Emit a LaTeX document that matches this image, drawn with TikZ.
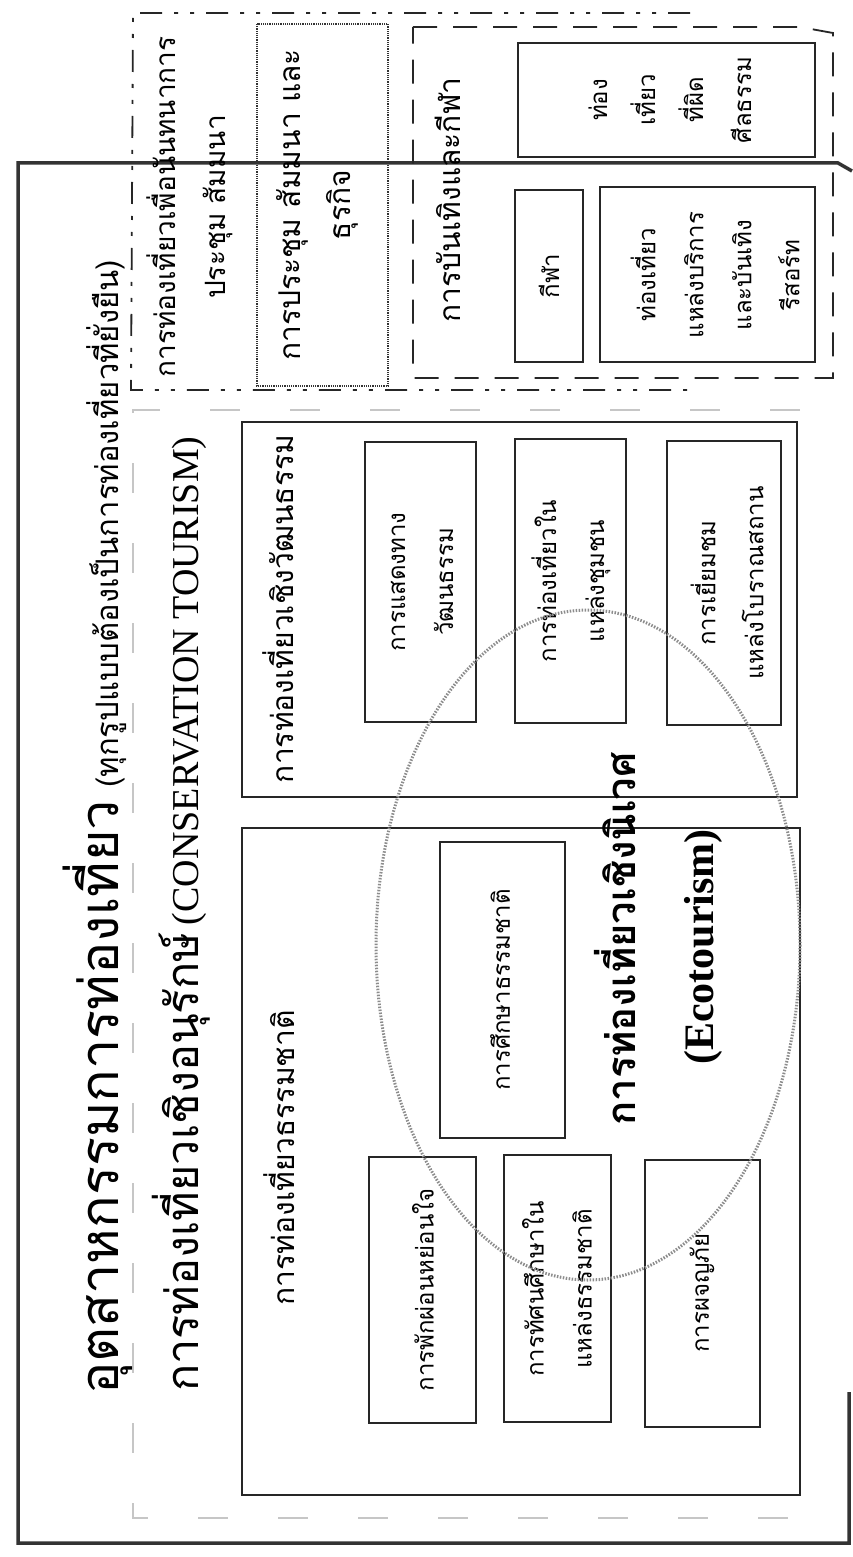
\documentclass[tikz,border=0pt]{standalone}
\usepackage{fontspec}
\setmainfont{Liberation Serif}
\newfontfamily\thai[Script=Thai]{Loma}

\begin{document}
\begin{tikzpicture}[x=1pt,y=-1pt,
  box/.style={draw=black!85,line width=1.6},
  dashA/.style={draw=black!85,line width=1.8,dash pattern=on 22pt off 12pt on 4pt off 12pt on 4pt off 12pt},
  dashB/.style={draw=black!85,line width=1.8,dash pattern=on 24pt off 16pt},
  lbl/.style={rotate=90,align=center,inner sep=0pt,font=\thai\fontsize{24}{48}\selectfont},
  head/.style={rotate=90,align=center,inner sep=0pt,font=\thai\fontsize{30}{50}\selectfont}]
\fill[white] (0,0) rectangle (853,1557);
\useasboundingbox (0,0) rectangle (853,1557);

\draw[line width=3.5,black!80] (849,1392) -- (849,1543) -- (18,1543) -- (18,163) -- (838,163) -- (852,171);
\draw[dashA] (690,13) -- (133,13) -- (131,390) -- (690,390);
\draw[dashB] (413,27) -- (800,27) -- (833,33) -- (833,378) -- (413,378) -- cycle;
\draw[black!80,line width=1.2,densely dotted] (257,24) rectangle (388,386);
\draw[gray!45,line width=2.5,dash pattern=on 30pt off 50pt] (800,410) -- (133,410) -- (133,1518) -- (800,1518);

\draw[box] (518,43) rectangle (815,157);
\draw[box] (515,190) rectangle (583,362);
\draw[box] (600,187) rectangle (815,362);

\draw[box] (242,422) rectangle (797,797);
\draw[box] (365,442) rectangle (476,722);
\draw[box] (515,439) rectangle (626,723);
\draw[box] (667,441) rectangle (781,725);

\draw[box] (242,828) rectangle (800,1495);
\draw[box] (440,842) rectangle (565,1138);
\draw[box] (369,1157) rectangle (476,1423);
\draw[box] (504,1155) rectangle (611,1422);
\draw[box] (645,1160) rectangle (760,1427);

\node[rotate=90,anchor=base west,inner sep=0pt,font=\thai] (title) at (118,1395)
  {{\fontsize{54}{60}\selectfont อุตสาหกรรมการท่องเที่ยว}\hspace{12pt}{\fontsize{31}{36}\selectfont (ทุกรูปแบบต้องเป็นการท่องเที่ยวที่ยั่งยืน)}};
\node[rotate=90,anchor=base west,inner sep=0pt] (conserv) at (198,1392)
  {{\thai\fontsize{45}{50}\selectfont การท่องเที่ยวเชิงอนุรักษ์}\hspace{8pt}{\fontsize{38}{46}\selectfont (CONSERVATION TOURISM)}};

\node[head,font=\thai\fontsize{28}{50}\selectfont] (recr) at (190,207) {การท่องเที่ยวเพื่อนันทนาการ\\ประชุม สัมมนา};
\node[head] (mice) at (317,205) {การประชุม สัมมนา และ\\ธุรกิจ};
\node[head] (ent) at (448,200) {การบันเทิงและกีฬา};
\node[lbl] (sport) at (549,276) {กีฬา};
\node[lbl] (resort) at (715,275) {ท่องเที่ยว\\แหล่งบริการ\\และบันเทิง\\รีสอร์ท};
\node[lbl] (immoral) at (670,100) {ท่อง\\เที่ยว\\ที่ผิด\\ศีลธรรม};

\node[head] (cult) at (278,609) {การท่องเที่ยวเชิงวัฒนธรรม};
\node[lbl] (show) at (422,582) {การแสดงทาง\\วัฒนธรรม};
\node[lbl] (commun) at (571,581) {การท่องเที่ยวใน\\แหล่งชุมชน};
\node[lbl] (ruins) at (727,583) {การเยี่ยมชม\\แหล่งโบราณสถาน};

\node[head] (nat) at (279,1158) {การท่องเที่ยวธรรมชาติ};
\node[lbl] (study) at (500,990) {การศึกษาธรรมชาติ};
\node[lbl] (relax) at (423,1290) {การพักผ่อนหย่อนใจ};
\node[lbl] (trip) at (557,1289) {การทัศนศึกษาใน\\แหล่งธรรมชาติ};
\node[lbl] (adv) at (702,1293) {การผจญภัย};

\node[rotate=90,inner sep=0pt,font=\thai\bfseries\fontsize{40}{46}\selectfont] (ecoth) at (615,939) {การท่องเที่ยวเชิงนิเวศ};
\node[rotate=90,inner sep=0pt,font=\bfseries\fontsize{42}{48}\selectfont] (ecoen) at (703,947) {(Ecotourism)};

\draw[black!45,line width=3,dash pattern=on 1.5pt off 1.5pt] (588,945) ellipse [x radius=212,y radius=335];
\end{tikzpicture}
\end{document}
